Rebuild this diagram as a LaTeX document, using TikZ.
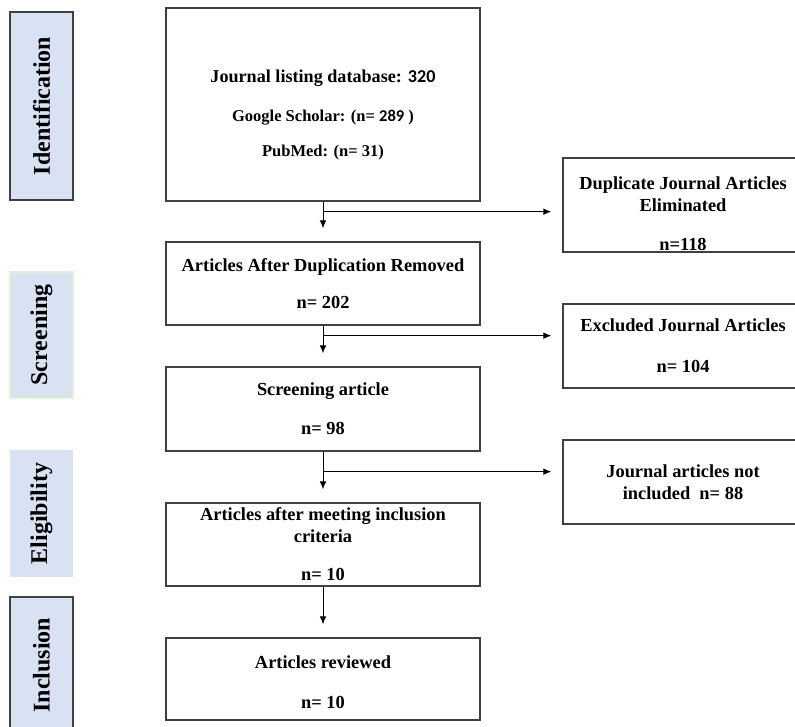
\documentclass[tikz,border=0pt]{standalone}
\usepackage{fontspec}
\setmainfont{Liberation Serif}
\newfontfamily\calfont{Carlito}
\usetikzlibrary{calc,arrows.meta}
\definecolor{stageblue}{HTML}{D9E2F3}
\definecolor{stagegreen}{HTML}{E2EFD9}
\definecolor{boxline}{HTML}{404040}
\begin{document}
\begin{tikzpicture}[x=0.75pt, y=-0.75pt]
    \tikzset{>={Latex[length=6pt,width=5pt]}}
    \tikzset{
      stage/.style={fill=stageblue, rotate=90, minimum height=47.25pt, inner sep=0pt,
        line width=0.9pt, font=\fontsize{18}{20}\selectfont\bfseries},
      mainbox/.style={draw=boxline, line width=1pt, minimum width=235.5pt, inner sep=0pt,
        align=center, font=\fontsize{13.8}{16.5}\selectfont\bfseries},
      sidebox/.style={mainbox, minimum width=180pt},
      flow/.style={->, line width=0.75pt}
    }
    \useasboundingbox (0,0) rectangle (795,727);
    \clip (0,0) rectangle (795,727);
    % phases
    \node[stage, draw=boxline, minimum width=141pt] (idf) at (41.5,106) {Identification};
    \node[stage, draw=stagegreen, minimum width=94.5pt] (scr) at (41.5,335) {Screening};
    \node[stage, minimum width=95.25pt] (elg) at (41.5,513.5) {Eligibility};
    \node[stage, draw=boxline, minimum width=102pt] (inc) at (41.5,665) {Inclusion};
    % main column
    \node[mainbox, minimum height=144.75pt, font=\fontsize{12.4}{15}\selectfont\bfseries] (b1) at (323,104.5)
      {\rule{0pt}{25pt}{\fontsize{13.6}{16}\selectfont Journal listing database: {\calfont 320}}\\[14pt]
       Google Scholar: (n= {\calfont 289} )\\[11pt]
       PubMed: (n= 31)};
    \node[mainbox, minimum height=62.25pt] (b2) at (323,283.5)
      {Articles After Duplication Removed\\[11.25pt] n= 202};
    \node[mainbox, minimum height=63pt] (b3) at (323,409)
      {Screening article\\[12.75pt] n= 98};
    \node[mainbox, minimum height=62.25pt] (b4) at (323,544.5)
      {Articles after meeting inclusion\\ criteria\\[12pt] n= 10};
    \node[mainbox, minimum height=61.5pt] (b5) at (323,679)
      {\rule{0pt}{14pt}Articles reviewed\\[13.5pt] n= 10};
    % excluded column
    \node[sidebox, minimum height=70.5pt] (d1) at (683,205)
      {\rule{0pt}{23pt}Duplicate Journal Articles\\ Eliminated\\[12.75pt] n=118};
    \node[sidebox, minimum height=63pt] (d2) at (683,346)
      {Excluded Journal Articles\\[14.25pt] n= 104};
    \node[sidebox, minimum height=63pt] (d3) at (683,482)
      {Journal articles not\\ included~~n= 88};
    % connectors
    \draw[flow, shorten >=9.75pt] (b1) -- (b2);
    \draw[flow, shorten >=9.75pt] (b2) -- (b3);
    \draw[flow, shorten >=9.75pt] (b3) -- (b4);
    \draw[flow, shorten >=9.75pt] (b4) -- (b5);
    \coordinate (s1) at ($(b1.south)+(0,10)$);
    \coordinate (s2) at ($(b2.south)+(0,10)$);
    \coordinate (s3) at ($(b3.south)+(0,20)$);
    \draw[flow, shorten >=8.25pt] (s1) -- (s1 -| d1.west);
    \draw[flow, shorten >=8.25pt] (s2) -- (s2 -| d2.west);
    \draw[flow, shorten >=8.25pt] (s3) -- (s3 -| d3.west);
\end{tikzpicture}
\end{document}
